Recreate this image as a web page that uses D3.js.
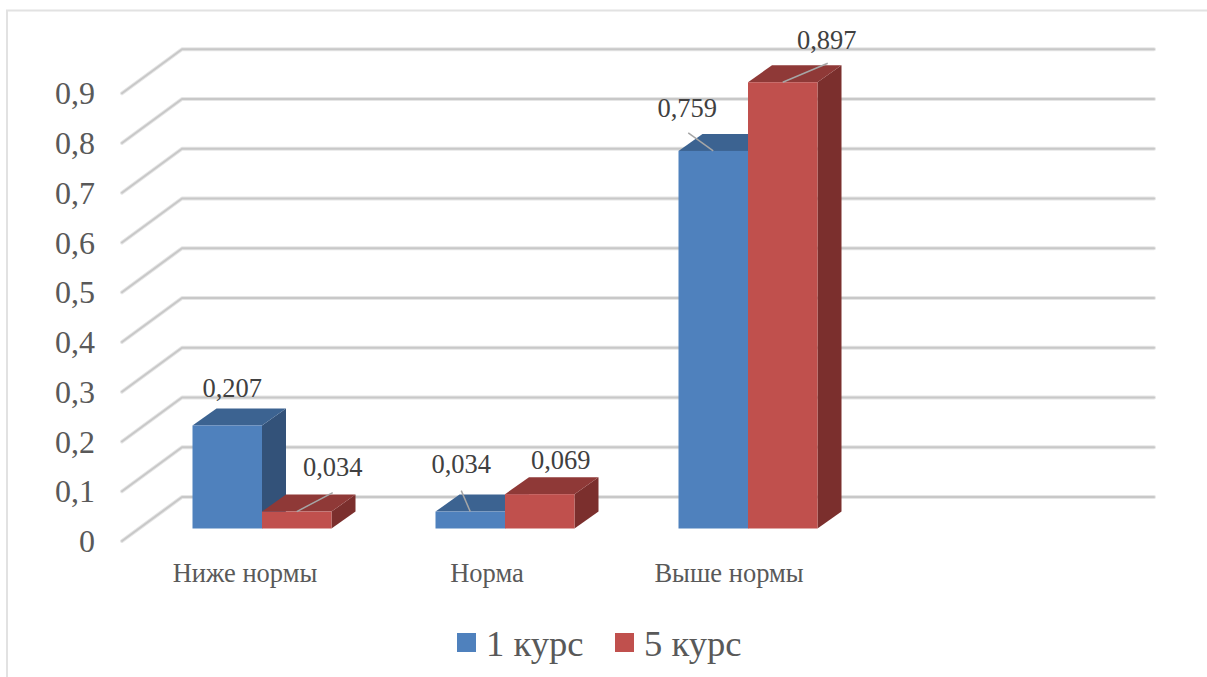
<!DOCTYPE html>
<html><head><meta charset="utf-8">
<script src="https://cdn.jsdelivr.net/npm/d3@7"></script>
<style>html,body{margin:0;background:#fff}svg{display:block}text{font-family:"Liberation Serif",serif}</style>
</head><body><svg id="chart" width="1207" height="677"></svg>
<script>
// Grouped pseudo-3D column chart: level of indicator by study year
const categories = ["Ниже нормы", "Норма", "Выше нормы"];
const seriesNames = ["1 курс", "5 курс"];
const course1 = [0.207, 0.034, 0.759];
const course5 = [0.034, 0.069, 0.897];
const valueLabels1 = ["0,207", "0,034", "0,759"];
const valueLabels5 = ["0,034", "0,069", "0,897"];
const tickValues = [0, 0.1, 0.2, 0.3, 0.4, 0.5, 0.6, 0.7, 0.8, 0.9];
const tickLabels = ["0", "0,1", "0,2", "0,3", "0,4", "0,5", "0,6", "0,7", "0,8", "0,9"];

const palette = [
  {front: "#4f81bd", top: "#3c6391", side: "#335279"},
  {front: "#c0504d", top: "#8f3937", side: "#7b2f2d"}
];

const svg = d3.select("#chart");
const W = 1207, H = 677;

// Outer frame of the chart area
svg.append("path").attr("d", `M7,${H}V10.5H${W}`).attr("fill", "none")
  .attr("stroke", "#e2e2e2").attr("stroke-width", 2);

// Scales for the front plane; a trailing empty slot keeps the right part of the plot free
const y = d3.scaleLinear().domain([0, 1]).range([528.5, 31]);
const x0 = d3.scaleBand().domain([...categories, ""]).range([140.5, 1112.5]);
const x1 = d3.scaleBand().domain(seriesNames).range([x0.bandwidth() / 2 - 69.5, x0.bandwidth() / 2 + 69.5]);

// Wall and floor projection
const wallY = d3.scaleLinear().domain([0, 1]).range([497, -0.5]);
const wallX0 = 182, wallX1 = 1154;
const sideX = 122, sideY = d3.scaleLinear().domain([0, 1]).range([541, 43.5]);
const depthX = 24, depthY = -17;

const grid = svg.append("g").attr("fill", "none").attr("stroke-linecap", "round").attr("stroke-linejoin", "round");
tickValues.forEach(t => {
  const line = d3.line()([[sideX, sideY(t)], [wallX0, wallY(t)], [wallX1, wallY(t)]]);
  grid.append("path").attr("d", line).attr("stroke", "#e6e6e6").attr("stroke-width", 4);
  grid.append("path").attr("d", line).attr("stroke", "#c8c8c8").attr("stroke-width", 2);
});

// Axis tick labels
const ticks = svg.append("g").attr("fill", "#595959").attr("font-size", 32);
tickValues.forEach((t, i) => {
  ticks.append("text").attr("x", 95).attr("y", sideY(t) + 1).attr("dy", "0.32em")
    .attr("text-anchor", "end").text(tickLabels[i]);
});

// Boxes: side, top and front faces of every column
const series = [course1, course5];
function box(g, xl, w, yTop, yBase, c) {
  const xr = xl + w;
  g.append("path").attr("fill", c.side)
    .attr("d", d3.line()([[xr, yTop], [xr + depthX, yTop + depthY], [xr + depthX, yBase + depthY], [xr, yBase]]) + "Z");
  g.append("path").attr("fill", c.top)
    .attr("d", d3.line()([[xl, yTop], [xl + depthX, yTop + depthY], [xr + depthX, yTop + depthY], [xr, yTop]]) + "Z");
  g.append("rect").attr("x", xl).attr("y", yTop).attr("width", w).attr("height", yBase - yTop).attr("fill", c.front);
}
const bars = svg.append("g");
categories.forEach((cat, i) => {
  // the second column is painted last so that it covers the neighbour's side face
  seriesNames.forEach((name, s) => {
    box(bars, x0(cat) + x1(name), x1.bandwidth(), y(series[s][i]), y(0), palette[s]);
  });
});

// Value labels with optional leader lines, offsets measured from the column's top centre
const labelLayout = [
  [{dx: 5, dy: -37, leader: null}, {dx: 36, dy: -44, leader: {ex: 36, ey: -19}}],
  [{dx: -9, dy: -47, leader: {ex: -9, ey: -21}}, {dx: 21, dy: -34, leader: null}],
  [{dx: -26, dy: -42, leader: {ex: -25, ey: -18}}, {dx: 44, dy: -42, leader: {ex: 45, ey: -19}}]
];
const valueLabels = [valueLabels1, valueLabels5];
const labels = svg.append("g");
categories.forEach((cat, i) => {
  seriesNames.forEach((name, s) => {
    const cx = x0(cat) + x1(name) + x1.bandwidth() / 2, top = y(series[s][i]);
    const l = labelLayout[i][s];
    if (l.leader) {
      labels.append("line").attr("x1", cx).attr("y1", top)
        .attr("x2", cx + l.leader.ex).attr("y2", top + l.leader.ey)
        .attr("stroke", "#a6a6a6").attr("stroke-width", 1.5);
    }
    labels.append("text").attr("x", cx + l.dx).attr("y", top + l.dy).attr("dy", "0.32em")
      .attr("text-anchor", "middle").attr("fill", "#404040").attr("font-size", 26.5)
      .text(valueLabels[s][i]);
  });
});

// Category labels
const catLabels = svg.append("g").attr("fill", "#595959").attr("font-size", 26.5).attr("text-anchor", "middle");
const catOffset = [-17, -18, -19];
categories.forEach((cat, i) => {
  catLabels.append("text").attr("x", x0(cat) + x0.bandwidth() / 2 + catOffset[i]).attr("y", 574)
    .attr("dy", "0.32em").text(cat);
});

// Legend
const legendX = [457, 615];
const legend = svg.append("g");
seriesNames.forEach((name, s) => {
  legend.append("rect").attr("x", legendX[s]).attr("y", 633).attr("width", 19).attr("height", 19).attr("fill", palette[s].front);
  legend.append("text").attr("x", legendX[s] + 29).attr("y", 644).attr("dy", "0.32em")
    .attr("fill", "#595959").attr("font-size", 36.6).text(name);
});
</script></body></html>
